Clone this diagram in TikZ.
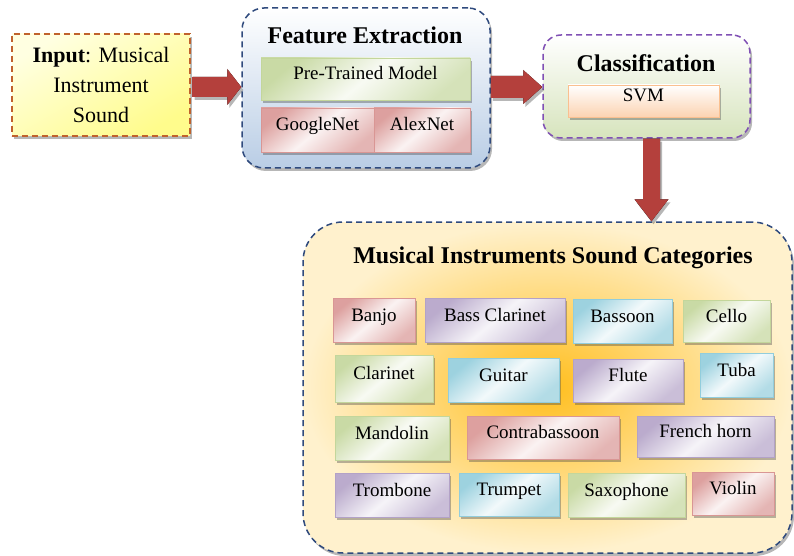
\documentclass[tikz,border=0pt]{standalone}
\usepackage{fontspec}
\setmainfont{Liberation Serif}
\usetikzlibrary{shadows,calc}
\definecolor{pinkC}{RGB}{217,150,148}
\definecolor{purpleC}{RGB}{179,162,199}
\definecolor{blueC}{RGB}{146,205,220}
\definecolor{greenC}{RGB}{195,214,155}
\definecolor{peachC}{RGB}{250,192,144}
\definecolor{navyC}{RGB}{47,74,125}
\definecolor{violetC}{RGB}{128,80,180}
\definecolor{brownC}{RGB}{192,98,44}
\definecolor{featC}{RGB}{185,205,229}
\definecolor{clsC}{RGB}{215,228,189}
\definecolor{yelA}{RGB}{255,255,225}
\definecolor{yelB}{RGB}{255,252,140}
\definecolor{arrowD}{RGB}{180,64,60}
\definecolor{arrowL}{RGB}{222,140,138}
\definecolor{goldC}{RGB}{255,190,30}
\definecolor{creamC}{RGB}{255,241,205}
\begin{document}
\begin{tikzpicture}[x=1pt,y=-1pt,
  shadowed/.style={drop shadow={shadow xshift=2pt,shadow yshift=-3pt,opacity=0.4,fill=black!70}},
  base/.style={inner sep=0pt, font=\fontsize{19}{22}\selectfont, text height=12pt, text depth=10pt},
  ibox/.style={base, draw=#1, line width=0.8pt, shadowed,
    top color=#1!90!white, bottom color=#1!70!white, middle color=#1!12!white, shading angle=40},
  container/.style={draw=#1, dash pattern=on 6pt off 4pt, line width=1.5pt, shadowed},
  titletext/.style={inner sep=0pt, font=\fontsize{24}{28}\selectfont\bfseries},
  fatarrow/.style={draw=none, top color=arrowD, middle color=arrowL, bottom color=arrowD, shadowed}
]
\useasboundingbox (0,0) rectangle (794,556);

% Input
\node[container=brownC, line width=1.2pt, top color=yelA, bottom color=yelB, shading angle=30,
      minimum width=178pt, minimum height=102pt, inner sep=0pt, align=center,
      font=\fontsize{22}{30}\selectfont] (input) at (101,85)
      {\textbf{Input}: Musical\\Instrument\\Sound};

% Feature extraction
\node[container=navyC, top color=white, bottom color=featC, rounded corners=22pt,
      minimum width=248pt, minimum height=160pt] (feat) at (366,88) {};
\node[titletext] (feattitle) at (365,35) {Feature Extraction};
\node[ibox=greenC, minimum width=209pt, minimum height=42pt] (pre) at (365.5,79) {Pre-Trained Model};
\node[ibox=pinkC, minimum width=113pt, minimum height=44pt] (google) at (317.5,130) {GoogleNet};
\node[ibox=pinkC, minimum width=96pt, minimum height=44pt] (alex) at (422,130) {AlexNet};

% Classification
\node[container=violetC, top color=white, bottom color=clsC, rounded corners=18pt,
      minimum width=207pt, minimum height=103pt] (cls) at (646.5,86.5) {};
\node[titletext] (clstitle) at (646,63) {Classification};
\node[base, draw=peachC, line width=0.8pt, shadowed, top color=white, bottom color=peachC!70!white,
      minimum width=151pt, minimum height=32pt] (svm) at (643.5,101) {SVM};

% Categories
\node[container=navyC, inner color=goldC, outer color=creamC, rounded corners=40pt,
      minimum width=489pt, minimum height=331pt] (cats) at (547.5,387.5) {};
\node[titletext] (catstitle) at (553,258) {Musical Instruments Sound Categories};

% Instrument boxes
\node[ibox=pinkC,   minimum width=82pt,  minimum height=44pt] (banjo)   at (374,320)   {Banjo};
\node[ibox=purpleC, minimum width=140pt, minimum height=44pt] (bassc)   at (495,320)   {Bass Clarinet};
\node[ibox=blueC,   minimum width=99pt,  minimum height=44pt] (bassoon) at (622.5,321) {Bassoon};
\node[ibox=greenC,  minimum width=87pt,  minimum height=42pt] (cello)   at (726.5,321) {Cello};

\node[ibox=greenC,  minimum width=98pt,  minimum height=47pt] (clar)    at (384,378.5) {Clarinet};
\node[ibox=blueC,   minimum width=111pt, minimum height=44pt] (guitar)  at (503.5,380) {Guitar};
\node[ibox=purpleC, minimum width=110pt, minimum height=43pt] (flute)   at (628,380.5) {Flute};
\node[ibox=blueC,   minimum width=73pt,  minimum height=44pt] (tuba)    at (736.5,375) {Tuba};

\node[ibox=greenC,  minimum width=114pt, minimum height=44pt] (mando)   at (392,438)   {Mandolin};
\node[ibox=pinkC,   minimum width=152pt, minimum height=43pt] (contra)  at (543,437.5) {Contrabassoon};
\node[ibox=purpleC, minimum width=137pt, minimum height=41pt] (french)  at (705.5,436.5) {French horn};

\node[ibox=purpleC, minimum width=114pt, minimum height=44pt] (tromb)   at (392,495)   {Trombone};
\node[ibox=blueC,   minimum width=100pt, minimum height=43pt] (trump)   at (509,494.5) {Trumpet};
\node[ibox=greenC,  minimum width=117pt, minimum height=44pt] (sax)     at (626.5,495) {Saxophone};
\node[ibox=pinkC,   minimum width=82pt,  minimum height=43pt] (violin)  at (733,493.5) {Violin};

% Arrows
\coordinate (a1s) at ($(input.east)+(2,2)$);
\coordinate (a1e) at (feat.west |- a1s);
\fill[fatarrow] ($(a1s)+(0,-10)$) -- ($(a1e)+(-14,-10)$) -- ($(a1e)+(-14,-18)$) -- (a1e)
  -- ($(a1e)+(-14,18)$) -- ($(a1e)+(-14,10)$) -- ($(a1s)+(0,10)$) -- cycle;

\coordinate (a2s) at ($(feat.east)+(0,-1)$);
\coordinate (a2e) at (cls.west |- a2s);
\fill[fatarrow] ($(a2s)+(0,-11)$) -- ($(a2e)+(-19,-11)$) -- ($(a2e)+(-19,-17)$) -- (a2e)
  -- ($(a2e)+(-19,17)$) -- ($(a2e)+(-19,11)$) -- ($(a2s)+(0,11)$) -- cycle;

\coordinate (a3s) at ($(cls.south)+(5,0)$);
\coordinate (a3e) at (a3s |- cats.north);
\fill[fatarrow, shading angle=90] ($(a3s)+(-8.5,0)$) -- ($(a3e)+(-8.5,-22)$) -- ($(a3e)+(-17,-22)$) -- (a3e)
  -- ($(a3e)+(17,-22)$) -- ($(a3e)+(8.5,-22)$) -- ($(a3s)+(8.5,0)$) -- cycle;
\end{tikzpicture}
\end{document}
